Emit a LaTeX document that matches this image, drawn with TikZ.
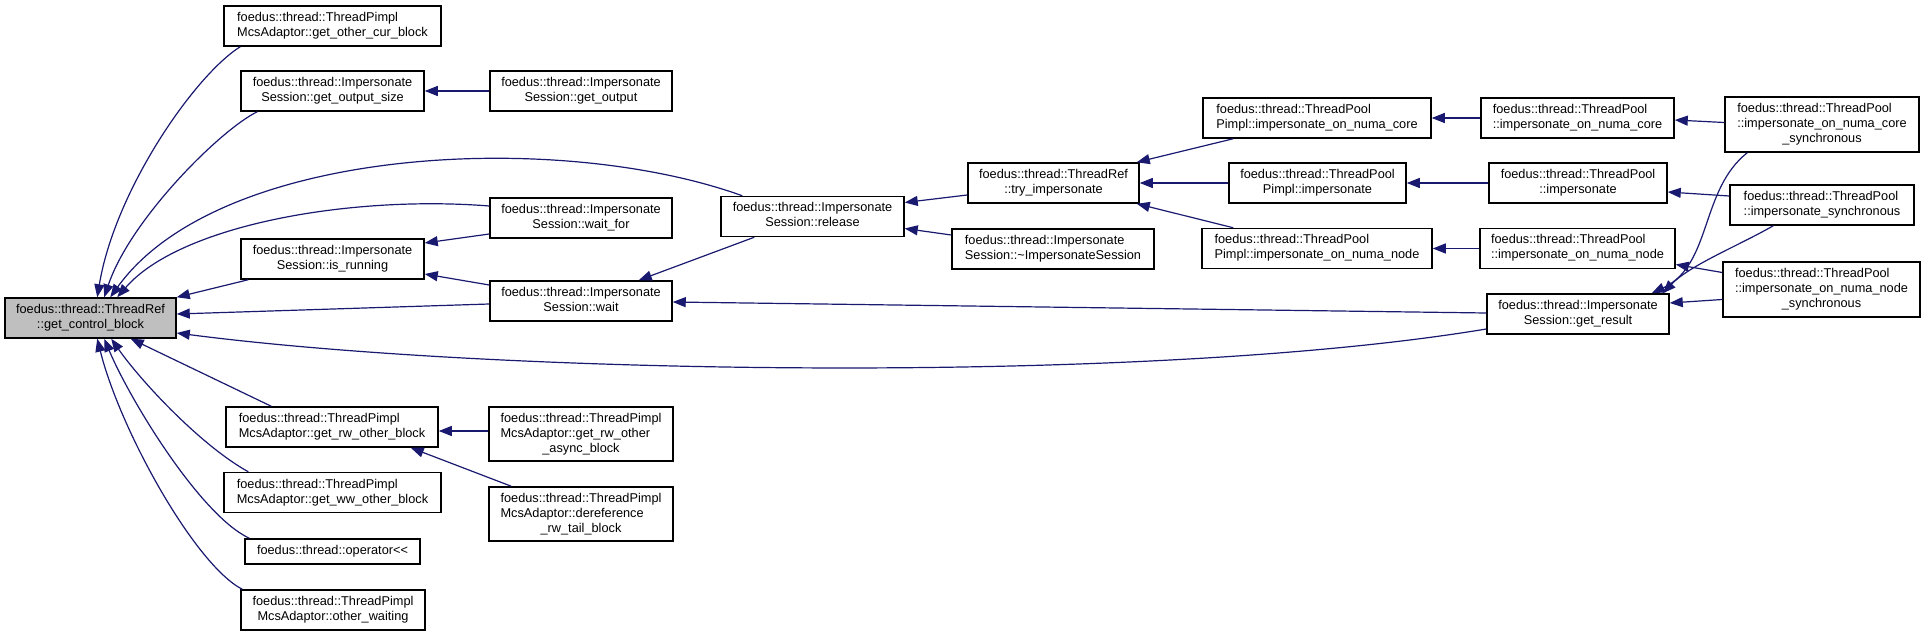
\documentclass[tikz,border=0pt]{standalone}
\usepackage{fontspec}
\setmainfont{Liberation Sans}
\usetikzlibrary{arrows.meta,calc}
\definecolor{edgeblue}{HTML}{191970}
\definecolor{hl}{HTML}{BFBFBF}
\newcommand\Lb[2]{\begin{tabular}{@{}l@{}}#1\\\multicolumn{1}{@{}c@{}}{#2}\end{tabular}}
\newcommand\Lc[3]{\begin{tabular}{@{}l@{}}#1\\#2\\\multicolumn{1}{@{}c@{}}{#3}\end{tabular}}
\tikzset{
  fn/.style={draw=black, line width=1.5pt, fill=white, inner sep=0pt, minimum height=40,
    font=\fontsize{12.75}{15}\selectfont},
  cl/.style={draw=edgeblue, line width=1.2pt, -{Triangle[length=13pt,width=10pt]}, fill=none}
}
\begin{document}
\begin{tikzpicture}[x=1pt,y=-1pt]
\useasboundingbox (0,0) rectangle (1925,636);
% nodes
\node[fn, fill=hl, minimum width=171] (gcb) at (90.5,318) {\Lb{foedus::thread::ThreadRef}{::get\_control\_block}};
\node[fn, minimum width=217] (gocb) at (332.5,26) {\Lb{foedus::thread::ThreadPimpl}{McsAdaptor::get\_other\_cur\_block}};
\node[fn, minimum width=183] (gos) at (332.5,91) {\Lb{foedus::thread::Impersonate}{Session::get\_output\_size}};
\node[fn, minimum width=182] (go) at (581,91) {\Lb{foedus::thread::Impersonate}{Session::get\_output}};
\node[fn, minimum width=183] (rel) at (812.5,216.5) {\Lb{foedus::thread::Impersonate}{Session::release}};
\node[fn, minimum width=182] (wf) at (581,218) {\Lb{foedus::thread::Impersonate}{Session::wait\_for}};
\node[fn, minimum width=183] (isr) at (332.5,259) {\Lb{foedus::thread::Impersonate}{Session::is\_running}};
\node[fn, minimum width=182] (wait) at (581,301) {\Lb{foedus::thread::Impersonate}{Session::wait}};
\node[fn, minimum width=171] (try) at (1053.5,183) {\Lb{foedus::thread::ThreadRef}{::try\_impersonate}};
\node[fn, minimum width=202] (dtor) at (1053,249) {\Lb{foedus::thread::Impersonate}{Session::\textasciitilde{}ImpersonateSession}};
\node[fn, minimum width=228] (pnc) at (1317,118) {\Lb{foedus::thread::ThreadPool}{Pimpl::impersonate\_on\_numa\_core}};
\node[fn, minimum width=193] (tnc) at (1577.5,118) {\Lb{foedus::thread::ThreadPool}{::impersonate\_on\_numa\_core}};
\node[fn, minimum width=194, minimum height=55] (ncs) at (1822,124.5) {\Lc{foedus::thread::ThreadPool}{::impersonate\_on\_numa\_core}{\_synchronous}};
\node[fn, minimum width=177] (pimp) at (1317.5,183) {\Lb{foedus::thread::ThreadPool}{Pimpl::impersonate}};
\node[fn, minimum width=178] (timp) at (1578,183) {\Lb{foedus::thread::ThreadPool}{::impersonate}};
\node[fn, minimum width=184] (isyn) at (1822,205) {\Lb{foedus::thread::ThreadPool}{::impersonate\_synchronous}};
\node[fn, minimum width=230] (pnn) at (1317,248.5) {\Lb{foedus::thread::ThreadPool}{Pimpl::impersonate\_on\_numa\_node}};
\node[fn, minimum width=195] (tnn) at (1577.5,248.5) {\Lb{foedus::thread::ThreadPool}{::impersonate\_on\_numa\_node}};
\node[fn, minimum width=182] (gr) at (1578,314) {\Lb{foedus::thread::Impersonate}{Session::get\_result}};
\node[fn, minimum width=197, minimum height=55] (nns) at (1821.5,289.5) {\Lc{foedus::thread::ThreadPool}{::impersonate\_on\_numa\_node}{\_synchronous}};
\node[fn, minimum width=212] (grw) at (332,427) {\Lb{foedus::thread::ThreadPimpl}{McsAdaptor::get\_rw\_other\_block}};
\node[fn, minimum width=184, minimum height=54] (grwa) at (581,434) {\Lc{foedus::thread::ThreadPimpl}{McsAdaptor::get\_rw\_other}{\_async\_block}};
\node[fn, minimum width=217] (gww) at (332.5,492.5) {\Lb{foedus::thread::ThreadPimpl}{McsAdaptor::get\_ww\_other\_block}};
\node[fn, minimum width=184, minimum height=54] (deref) at (581,514) {\Lc{foedus::thread::ThreadPimpl}{McsAdaptor::dereference}{\_rw\_tail\_block}};
\node[fn, minimum width=175, minimum height=25] (op) at (332.5,551.5) {foedus::thread::operator<{}<};
\node[fn, minimum width=184] (ow) at (333,610) {\Lb{foedus::thread::ThreadPimpl}{McsAdaptor::other\_waiting}};
% edges into get_control_block
\draw[cl] ($(gocb.south west)+(17,0)$) .. controls (195,75) and (115,190) .. ($(gcb.north west)+(93,0)$);
\draw[cl] ($(gos.south west)+(17,0)$) .. controls (220,130) and (130,220) .. ($(gcb.north west)+(100,0)$);
\draw[cl] ($(rel.north west)+(22,0)$) .. controls (560,130) and (220,145) .. ($(gcb.north west)+(106,0)$);
\draw[cl] ($(wf.west)+(0,-12)$) .. controls (350,195) and (180,225) .. ($(gcb.north west)+(113,0)$);
\draw[cl] ($(isr.south west)+(8,0)$) -- (gcb.north east);
\draw[cl] ($(wait.west)+(0,3)$) -- ($(gcb.east)+(0,-4)$);
\draw[cl] ($(gr.west)+(0,15)$) .. controls (1150,385) and (500,375) .. ($(gcb.east)+(0,15)$);
\draw[cl] ($(grw.north west)+(46,0)$) -- ($(gcb.south east)+(-46,0)$);
\draw[cl] ($(gww.north west)+(25,0)$) .. controls (200,445) and (140,380) .. ($(gcb.south west)+(107,0)$);
\draw[cl] ($(op.north west)+(5,0)$) .. controls (200,515) and (130,400) .. ($(gcb.south west)+(100,0)$);
\draw[cl] ($(ow.north west)+(2,0)$) .. controls (195,565) and (120,430) .. ($(gcb.south west)+(93,0)$);
% other edges
\draw[cl] (go.west) -- (gos.east);
\draw[cl] ($(wf.west)+(0,16)$) -- ($(isr.east)+(0,-16)$);
\draw[cl] ($(wait.west)+(0,-16)$) -- ($(isr.east)+(0,15)$);
\draw[cl] ($(rel.south west)+(34,0)$) -- ($(wait.north east)+(-34,0)$);
\draw[cl] ($(gr.west)+(0,-1)$) -- ($(wait.east)+(0,1)$);
\draw[cl] ($(try.west)+(0,12)$) -- ($(rel.east)+(0,-14)$);
\draw[cl] ($(dtor.west)+(0,-14)$) -- ($(rel.east)+(0,12)$);
\draw[cl] ($(pnc.south west)+(31,0)$) -- ($(try.north east)+(-3,0)$);
\draw[cl] (pimp.west) -- (try.east);
\draw[cl] ($(pnn.north west)+(32,0)$) -- ($(try.south east)+(-3,0)$);
\draw[cl] (tnc.west) -- (pnc.east);
\draw[cl] (timp.west) -- (pimp.east);
\draw[cl] (tnn.west) -- (pnn.east);
\draw[cl] ($(ncs.west)+(0,-2)$) -- ($(tnc.east)+(0,2)$);
\draw[cl] ($(isyn.west)+(0,-9)$) -- ($(timp.east)+(0,9)$);
\draw[cl] ($(nns.west)+(0,-17)$) -- ($(tnn.east)+(0,16)$);
\draw[cl] ($(nns.west)+(0,10)$) -- ($(gr.east)+(0,-11)$);
\draw[cl] ($(ncs.south west)+(23,0)$) .. controls (1700,190) and (1712,265) .. ($(gr.north east)+(-18,0)$);
\draw[cl] ($(isyn.south west)+(44,0)$) .. controls (1740,245) and (1690,265) .. ($(gr.north east)+(-7,0)$);
\draw[cl] ($(grwa.west)+(0,-3)$) -- ($(grw.east)+(0,4)$);
\draw[cl] ($(deref.north west)+(23,0)$) -- ($(grw.south east)+(-28,0)$);
\end{tikzpicture}
\end{document}
